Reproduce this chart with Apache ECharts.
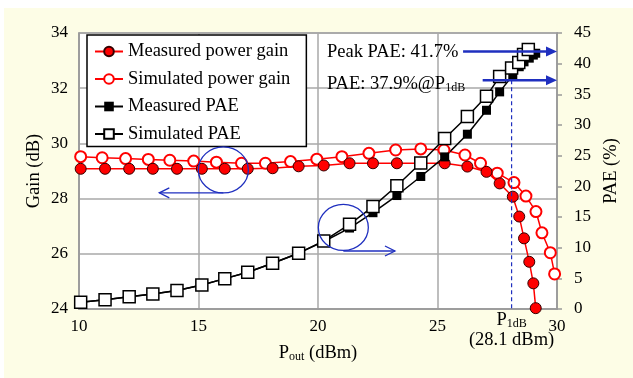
<!DOCTYPE html>
<html>
<head>
<meta charset="utf-8">
<script src="https://cdn.jsdelivr.net/npm/echarts@6/dist/echarts.min.js"></script>
<style>
html,body{margin:0;padding:0;background:#fff;}
#wrap{position:relative;width:633px;height:378px;}
#bg{position:absolute;left:4px;top:8px;right:0;bottom:0;background:#fdfde6;}
#main{position:absolute;left:0;top:0;width:633px;height:378px;}
</style>
</head>
<body>
<div id="wrap"><div id="bg"></div><div id="main"></div></div>
<script>
// measured sweep (Pout, dBm)
var measX = [10.07, 11.09, 12.1, 13.09, 14.1, 15.14, 16.1, 17.06, 18.1, 19.19, 20.24, 21.32, 22.3,
    23.3, 24.3, 25.3, 26.25, 27.05, 27.6, 28.15, 28.42, 28.62, 28.84, 29.01, 29.11];
var measGain = [29.08, 29.08, 29.08, 29.08, 29.08, 29.08, 29.08, 29.08, 29.1, 29.17, 29.2, 29.28, 29.28,
    29.28, 29.28, 29.28, 29.16, 28.97, 28.55, 28.07, 27.35, 26.56, 25.71, 24.93, 24.03];
var measPAE = [1.1, 1.5, 2.0, 2.45, 3.0, 3.9, 4.95, 6.0, 7.45, 9.1, 11.0, 13.2, 15.7,
    18.5, 21.6, 24.8, 28.5, 32.4, 35.4, 38.1, 39.5, 40.3, 40.9, 41.4, 41.7];

// simulation
var simGainX = [10.07, 10.97, 11.95, 12.9, 13.8, 14.8, 15.75, 16.8, 17.8, 18.85, 19.95, 21.0, 22.13,
    23.25, 24.3, 25.27, 26.15, 26.8, 27.5, 28.2, 28.7, 29.12, 29.37, 29.72, 29.9];
var simGain = [29.52, 29.48, 29.45, 29.42, 29.39, 29.36, 29.32, 29.28, 29.28, 29.34, 29.43, 29.52, 29.64,
    29.76, 29.8, 29.76, 29.58, 29.28, 28.92, 28.58, 28.09, 27.53, 26.76, 26.04, 25.27];
var simPaeX = [10.07, 11.09, 12.1, 13.09, 14.1, 15.14, 16.1, 17.06, 18.1, 19.19, 20.24, 21.32, 22.3,
    23.3, 24.3, 25.3, 26.25, 27.05, 27.6, 28.1, 28.4, 28.6, 28.8];
var simPAE = [1.1, 1.5, 2.0, 2.45, 3.0, 3.9, 4.95, 6.0, 7.45, 9.1, 11.1, 13.8, 16.7,
    20.1, 23.8, 27.8, 31.4, 34.7, 37.9, 39.3, 40.2, 41.5, 42.3];

var xTicks = [10, 15, 20, 25, 30];
// annotations (data coords)
var peakPAE = 42.0, p1dbPAE = 37.3, p1dbX = 28.1;
var peakArrowFrom = 26.07, p1dbArrowFrom = 26.89;
var gainCircle = [16.04, 29.04], paeCircle = [21.06, 13.3];
var gainArrowTo = [13.36, 28.21], paeArrowFrom = [21.06, 9.46], paeArrowTo = [23.22, 9.46];

var FONT = 'Liberation Serif';
var BLUE = '#1f2fbf';

function pairs(xs, ys) {
    return xs.map(function (x, i) { return [x, ys[i]]; });
}

var chart = echarts.init(document.getElementById('main'));

var subRich = {
    a: {fontFamily: FONT, fontSize: 18.5, color: '#000', lineHeight: 21, verticalAlign: 'bottom'},
    s: {fontFamily: FONT, fontSize: 12, color: '#000', lineHeight: 12, verticalAlign: 'bottom'}
};

var option = {
    animation: false,
    textStyle: {fontFamily: FONT},
    grid: {left: 79, right: 76, top: 33, bottom: 69, show: true, backgroundColor: '#fff',
        borderColor: '#999', borderWidth: 1.5},
    legend: {
        data: ['Measured power gain', 'Simulated power gain', 'Measured PAE', 'Simulated PAE'],
        orient: 'vertical', left: 87, top: 35,
        itemWidth: 28, itemHeight: 12, itemGap: 8.5,
        padding: [7, 16, 3, 7],
        backgroundColor: '#fff', borderColor: '#000', borderWidth: 1.5,
        textStyle: {fontFamily: FONT, fontSize: 18.5, color: '#000'}
    },
    xAxis: {
        type: 'value', min: 10, max: 30, interval: 5,
        name: '{a|P}{s|out}{a| (dBm)}', nameLocation: 'middle', nameGap: 33,
        nameTextStyle: {rich: subRich},
        axisLine: {lineStyle: {color: '#999', width: 1.5}},
        axisTick: {show: false},
        axisLabel: {fontFamily: FONT, fontSize: 17, color: '#000', margin: 9,
            customValues: xTicks},
        splitLine: {lineStyle: {color: '#a8a8a8', width: 1.5}}
    },
    yAxis: [{
        type: 'value', min: 24, max: 34, interval: 2, position: 'left',
        name: 'Gain (dB)', nameLocation: 'middle', nameGap: 35, nameRotate: 90,
        nameMoveOverlap: false,
        nameTextStyle: {fontFamily: FONT, fontSize: 18.5, color: '#000'},
        axisLine: {show: true, lineStyle: {color: '#999', width: 1.5}},
        axisTick: {show: false},
        axisLabel: {fontFamily: FONT, fontSize: 17, color: '#000', margin: 11},
        splitLine: {lineStyle: {color: '#a8a8a8', width: 1.5}}
    }, {
        type: 'value', min: 0, max: 45, interval: 5, position: 'right',
        name: 'PAE (%)', nameLocation: 'middle', nameGap: 41, nameRotate: 90,
        nameTextStyle: {fontFamily: FONT, fontSize: 18.5, color: '#000'},
        axisLine: {show: true, lineStyle: {color: '#999', width: 1.5}},
        axisTick: {show: true, length: 5, lineStyle: {color: '#999', width: 1.5}},
        axisLabel: {fontFamily: FONT, fontSize: 17, color: '#000', margin: 17},
        splitLine: {show: false}
    }],
    series: [{
        name: 'Simulated power gain', type: 'line', data: pairs(simGainX, simGain),
        symbol: 'circle', symbolSize: 11,
        lineStyle: {color: '#f00', width: 1.5},
        itemStyle: {color: '#fff', borderColor: '#f00', borderWidth: 2}
    }, {
        name: 'Measured power gain', type: 'line', data: pairs(measX, measGain),
        symbol: 'circle', symbolSize: 11,
        lineStyle: {color: '#f00', width: 1.5},
        itemStyle: {color: '#f00', borderColor: '#300', borderWidth: 1}
    }, {
        name: 'Measured PAE', type: 'line', yAxisIndex: 1, data: pairs(measX, measPAE),
        symbol: 'rect', symbolSize: 9,
        lineStyle: {color: '#000', width: 1.5},
        itemStyle: {color: '#000'}
    }, {
        name: 'Simulated PAE', type: 'line', yAxisIndex: 1, data: pairs(simPaeX, simPAE),
        symbol: 'rect', symbolSize: 12,
        lineStyle: {color: '#000', width: 1.5},
        itemStyle: {color: '#fff', borderColor: '#000', borderWidth: 1.5}
    }]
};

chart.setOption(option);

// annotation layer, positioned from the axes
function px(x, y, ax) {
    return chart.convertToPixel({xAxisIndex: 0, yAxisIndex: ax}, [x, y]);
}
function bigArrow(x0, x1, y) {
    var a = px(x0, y, 1), b = px(x1, y, 1);
    return [{
        type: 'line', z: 20, shape: {x1: a[0], y1: a[1], x2: b[0] - 9, y2: b[1]},
        style: {stroke: BLUE, lineWidth: 2.5}
    }, {
        type: 'polygon', z: 20, shape: {points: [[b[0], b[1]], [b[0] - 11, b[1] - 5], [b[0] - 11, b[1] + 5]]},
        style: {fill: BLUE}
    }];
}
function openArrow(p0, p1, dir) {
    return [{
        type: 'line', z: 20, shape: {x1: p0[0], y1: p0[1], x2: p1[0], y2: p1[1]},
        style: {stroke: BLUE, lineWidth: 1.3}
    }, {
        type: 'polyline', z: 20,
        shape: {points: [[p1[0] - dir * 10, p1[1] - 5], [p1[0], p1[1]], [p1[0] - dir * 10, p1[1] + 5]]},
        style: {stroke: BLUE, lineWidth: 1.3, fill: null}
    }];
}

var g = [];
g = g.concat(bigArrow(peakArrowFrom, 30, peakPAE));
g = g.concat(bigArrow(p1dbArrowFrom, 30, p1dbPAE));
var d0 = px(p1dbX, p1dbPAE, 1), d1 = px(p1dbX, 0, 1);
g.push({type: 'line', z: 19, shape: {x1: d0[0], y1: d0[1], x2: d1[0], y2: d1[1]},
    style: {stroke: BLUE, lineWidth: 1.2, lineDash: [4, 3]}});

var c1 = px(gainCircle[0], gainCircle[1], 0), c2 = px(paeCircle[0], paeCircle[1], 1);
g.push({type: 'ellipse', z: 20, shape: {cx: c1[0], cy: c1[1], rx: 25, ry: 23},
    style: {fill: null, stroke: BLUE, lineWidth: 1.3}});
g.push({type: 'ellipse', z: 20, shape: {cx: c2[0], cy: c2[1], rx: 25, ry: 23},
    style: {fill: null, stroke: BLUE, lineWidth: 1.3}});
g = g.concat(openArrow([c1[0], c1[1] + 23], px(gainArrowTo[0], gainArrowTo[1], 0), -1));
g = g.concat(openArrow(px(paeArrowFrom[0], paeArrowFrom[1], 1), px(paeArrowTo[0], paeArrowTo[1], 1), 1));

g.push({type: 'text', z: 21, left: 327, top: 43,
    style: {text: 'Peak PAE: 41.7%', fontFamily: FONT, fontSize: 18.5, fill: '#000'}});
g.push({type: 'text', z: 21, left: 327, top: 75,
    style: {text: '{a|PAE: 37.9%@P}{s|1dB}', rich: subRich}});
g.push({type: 'text', z: 21, x: d1[0], y: 309,
    style: {text: '{a|P}{s|1dB}', rich: subRich, align: 'center'}});
g.push({type: 'text', z: 21, x: d1[0], y: 331,
    style: {text: '(28.1 dBm)', fontFamily: FONT, fontSize: 18.5, fill: '#000', align: 'center'}});

chart.setOption({graphic: g});
</script>
</body>
</html>
